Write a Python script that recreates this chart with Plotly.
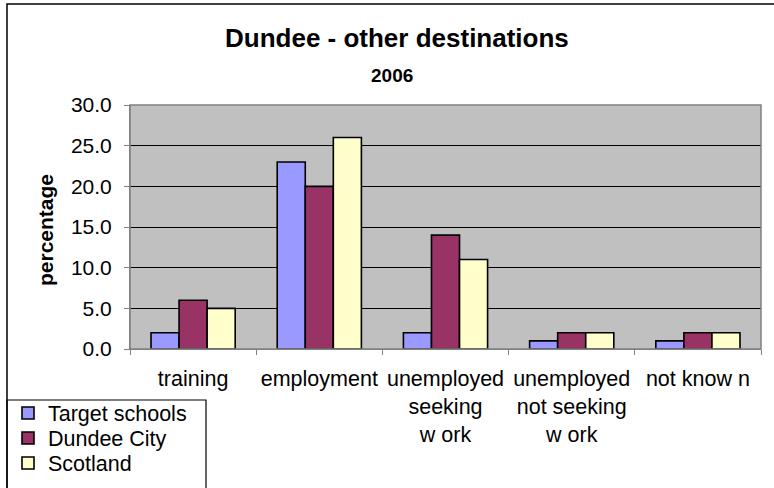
import plotly.graph_objects as go

categories = ["training", "employment", "unemployed<br>seeking<br>w ork",
              "unemployed<br>not seeking<br>w ork", "not know n"]
target_schools = [2, 23, 2, 1, 1]
dundee_city = [6, 20, 14, 2, 2]
scotland = [5, 26, 11, 2, 2]
y_ticks = [0, 5, 10, 15, 20, 25, 30]

FONT = "Liberation Sans, Arial, sans-serif"
W, H = 774, 488
L, R, T, B = 130, 761, 105, 349  # plot area in pixels


def px_x(x):
    return (x - L) / (R - L)


def px_y(y):
    return (B - y) / (B - T)


fig = go.Figure()
series = [("Target schools", target_schools, "#9999FF"),
          ("Dundee City", dundee_city, "#993366"),
          ("Scotland", scotland, "#FFFFCC")]
legend_ids = ["legend", "legend2", "legend3"]
legend_rows = [413, 438, 463]
for (name, vals, col), lid in zip(series, legend_ids):
    fig.add_trace(go.Bar(
        x=categories, y=vals, name=name, legend=lid,
        marker=dict(color=col, line=dict(color="black", width=1.6)),
    ))

# one single-entry legend per series so the rows sit at fixed heights
legend_layout = {}
for lid, row in zip(legend_ids, legend_rows):
    legend_layout[lid] = dict(
        x=px_x(8), y=px_y(row), xanchor="left", yanchor="middle",
        bgcolor="rgba(0,0,0,0)", borderwidth=0,
        font=dict(size=21.5), itemwidth=30,
    )

fig.update_layout(
    width=W, height=H,
    margin=dict(l=L, r=W - R, t=T, b=H - B, autoexpand=False),
    paper_bgcolor="white", plot_bgcolor="#C0C0C0",
    barmode="group", bargap=0.333, bargroupgap=0,
    font=dict(family=FONT, size=20, color="black"),
    showlegend=True,
    **legend_layout,
    xaxis=dict(
        showline=True, linecolor="#808080", linewidth=1,
        ticks="outside", ticklen=5, tickcolor="#808080",
        tickson="boundaries", tickfont=dict(size=21.5),
        ticklabelstandoff=10, automargin=False,
    ),
    yaxis=dict(
        range=[0, 30], tickvals=y_ticks, tickformat=".1f",
        showgrid=True, gridcolor="black", gridwidth=1,
        showline=True, linecolor="#808080", linewidth=1,
        ticks="outside", ticklen=5, tickcolor="#808080",
        tickfont=dict(size=21), zeroline=False,
        ticklabelstandoff=8, automargin=False,
    ),
    annotations=[
        dict(text="<b>Dundee - other destinations</b>", xref="paper", yref="paper",
             x=px_x(397), y=px_y(38), xanchor="center", yanchor="middle",
             showarrow=False, font=dict(size=26)),
        dict(text="<b>2006</b>", xref="paper", yref="paper",
             x=px_x(392), y=px_y(75), xanchor="center", yanchor="middle",
             showarrow=False, font=dict(size=19)),
        dict(text="<b>percentage</b>", xref="paper", yref="paper",
             x=px_x(45), y=px_y(230), xanchor="center", yanchor="middle",
             textangle=-90, showarrow=False, font=dict(size=21)),
    ],
    shapes=[
        # outer chart border
        dict(type="rect", xref="paper", yref="paper",
             x0=px_x(7), x1=px_x(790), y0=px_y(4), y1=px_y(500),
             line=dict(color="black", width=1.5), fillcolor="rgba(0,0,0,0)",
             layer="above"),
        # plot area frame
        dict(type="rect", xref="paper", yref="paper",
             x0=0, x1=1, y0=0, y1=1,
             line=dict(color="#808080", width=1.5), fillcolor="rgba(0,0,0,0)",
             layer="above"),
        # legend box
        dict(type="rect", xref="paper", yref="paper",
             x0=px_x(7), x1=px_x(206), y0=px_y(400), y1=px_y(500),
             line=dict(color="black", width=1.2), fillcolor="rgba(0,0,0,0)",
             layer="above"),
    ],
)

fig.write_html("out.html")
